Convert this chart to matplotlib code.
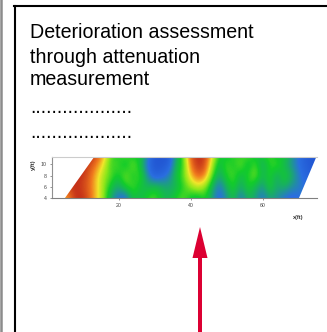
import numpy as np
from matplotlib import pyplot as plt
from matplotlib.colors import LinearSegmentedColormap
from matplotlib.patches import Polygon, FancyArrow
from matplotlib.lines import Line2D

# slide text
title_lines = ["Deterioration assessment", "through attenuation", "measurement"]
dot_lines = ["...................", "..................."]

# attenuation map (0 = low / blue, 1 = high / red)
x_pos = np.arange(4, 78, 2)
y_pos = np.array([4, 6, 8, 10, 12])
row_y4 = [.75, .80, .98, 1.0, .90, .75, .60, .35, .20, .15, .45, .40, .50, .55, .45, .40, .50, .55, .45,
          .40, .50, .35, .15, .30, .45, .20, .40, .35, .20, .35, .30, .20, .15, .20, .20, .20, .20]
row_y6 = [.95, .95, 1.0, .95, .88, .75, .60, .45, .35, .50, .55, .45, .40, .45, .40, .35, .40, .50, .60,
          .68, .60, .40, .20, .40, .50, .35, .50, .40, .30, .50, .35, .40, .30, .25, .20, .20, .20]
row_y8 = [1.0, 1.0, 1.0, .98, .90, .75, .62, .55, .45, .60, .45, .55, .30, .10, .15, .25, .45, .55, .75,
          .90, .85, .55, .35, .50, .55, .40, .50, .60, .40, .50, .35, .50, .40, .25, .15, .10, .10]
row_y10 = [1.0, 1.0, 1.0, 1.0, .95, .85, .70, .50, .55, .40, .60, .45, .20, .05, .05, .10, .40, .50, .85,
           1.0, .95, .65, .40, .55, .45, .60, .40, .55, .35, .50, .55, .40, .30, .20, .10, .05, .05]
row_y12 = [1.0, 1.0, 1.0, 1.0, 1.0, .95, .80, .55, .45, .60, .40, .50, .30, .05, .05, .05, .35, .55, .92,
           1.0, .98, .75, .50, .40, .55, .45, .60, .40, .50, .55, .40, .50, .35, .20, .10, .05, .05]
scan_outline = [(5.1, 4), (13.2, 11.3), (74.9, 11.3), (70.1, 4)]
x_ticks = [20, 40, 60]
y_ticks = [4, 6, 8, 10]

grid = np.array([row_y4, row_y6, row_y8, row_y10, row_y12])

cmap = LinearSegmentedColormap.from_list("atten", [
    (0.0, "#1f4fcf"), (0.2, "#2a6ee0"), (0.38, "#18b060"), (0.48, "#12cc2a"), (0.6, "#8ee61a"),
    (0.72, "#f2e62a"), (0.85, "#f07a1e"), (1.0, "#c02a18")])

fig = plt.figure(figsize=(3.27, 3.32), dpi=100)
plt.rcParams['font.family'] = ['Liberation Sans', 'DejaVu Sans']

# frame of the slide
fig.add_artist(Line2D([0.012, 0.012], [0, 3.32], lw=1.8, color='#8c8c8c', transform=fig.dpi_scale_trans))
fig.add_artist(Line2D([0.15, 0.15], [0, 3.265], lw=1.5, color='black', transform=fig.dpi_scale_trans))
fig.add_artist(Line2D([0.145, 3.27], [3.265, 3.265], lw=1.5, color='black', transform=fig.dpi_scale_trans))

baselines = [1 - 37.5 / 332, 1 - 63 / 332, 1 - 85 / 332]
for txt, yb in zip(title_lines, baselines):
    fig.text(30 / 327, yb, txt, fontsize=14.1, va='baseline', ha='left', color='black')
for txt, yb in zip(dot_lines, [1 - 113 / 332, 1 - 138 / 332]):
    fig.text(30 / 327, yb, txt, fontsize=14.1, va='baseline', ha='left', color='black')

ax = fig.add_axes([52 / 327, 1 - 198 / 332, 265 / 327, 41 / 332])
img = ax.imshow(grid, cmap=cmap, vmin=0, vmax=1, origin='lower', aspect='auto',
                interpolation='bicubic', extent=(3, 77, 3, 13))
clip = Polygon(scan_outline, closed=True, transform=ax.transData, facecolor='none', edgecolor='none')
ax.add_patch(clip)
img.set_clip_path(clip)
ax.set_xlim(1.5, 75.1)
ax.set_ylim(4, 11.3)
ax.set_xticks(x_ticks)
ax.set_yticks(y_ticks)
ax.tick_params(labelsize=3.8, length=1.2, width=0.4, pad=2.5, colors='#444444')
ax.spines['right'].set_visible(False)
ax.spines['top'].set_color('#cccccc')
ax.spines['left'].set_color('#909090')
ax.spines['bottom'].set_color('#808080')
for s in ['top', 'left', 'bottom']:
    ax.spines[s].set_linewidth(0.8)
fig.text(298 / 327, 1 - 218 / 332, "x(ft)", fontsize=4, ha='center', va='center', color='#333333', weight='bold')
fig.text(33 / 327, 1 - 165 / 332, "y(ft)", fontsize=4, ha='center', va='center', color='#333333',
         weight='bold', rotation=90)

arrow = FancyArrow(2.0, -0.05, 0, 1.10, width=0.04, head_width=0.15, head_length=0.31,
                   length_includes_head=True, color='#dc0032', lw=0, transform=fig.dpi_scale_trans)
fig.add_artist(arrow)

plt.savefig('out.png', dpi=100)
